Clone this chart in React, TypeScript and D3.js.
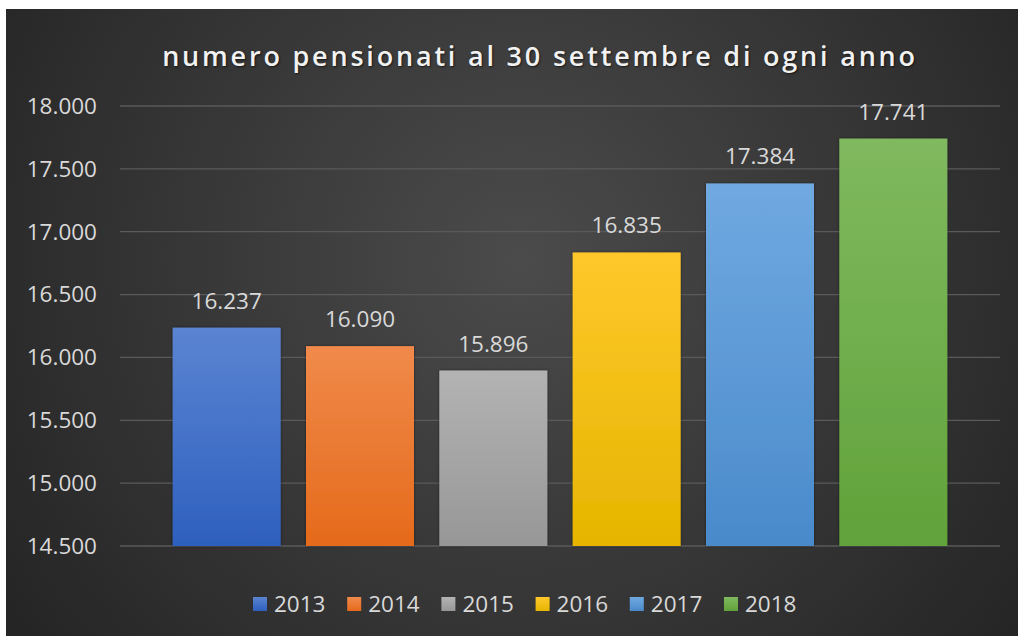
import * as React from 'react';
import * as d3 from 'd3';

const years = ['2013', '2014', '2015', '2016', '2017', '2018'];
const pensionati = [16237, 16090, 15896, 16835, 17384, 17741];
const yTicks = [14500, 15000, 15500, 16000, 16500, 17000, 17500, 18000];
const topColors = ['#5b84d2', '#f08a4b', '#b3b3b3', '#ffc82b', '#70a9e1', '#80b95f'];
const bottomColors = ['#2e60be', '#e56a1b', '#979797', '#e5b500', '#4a8acb', '#61a23a'];

const fmt = (v: number) => d3.format(',')(v).replace(/,/g, '.');

const App = () => {
  const ref = React.useRef<SVGSVGElement>(null);
  const width = 1018;
  const height = 636;

  React.useEffect(() => {
    const svg = d3.select(ref.current);
    svg.selectAll('*').remove();

    const defs = svg.append('defs');
    const bg = defs
      .append('radialGradient')
      .attr('id', 'bg')
      .attr('gradientUnits', 'userSpaceOnUse')
      .attr('cx', 520)
      .attr('cy', 260)
      .attr('r', 620);
    bg.append('stop').attr('offset', '0%').attr('stop-color', '#4b4b4b');
    bg.append('stop').attr('offset', '100%').attr('stop-color', '#252525');

    years.forEach((y, i) => {
      const g = defs
        .append('linearGradient')
        .attr('id', `bar${y}`)
        .attr('x1', 0)
        .attr('y1', 0)
        .attr('x2', 0)
        .attr('y2', 1);
      g.append('stop').attr('offset', '0%').attr('stop-color', topColors[i]);
      g.append('stop').attr('offset', '100%').attr('stop-color', bottomColors[i]);
    });

    const shadow = defs.append('filter').attr('id', 'shadow').attr('x', '-10%').attr('y', '-10%').attr('width', '120%').attr('height', '120%');
    shadow
      .append('feDropShadow')
      .attr('dx', 0)
      .attr('dy', 0)
      .attr('stdDeviation', 1.5)
      .attr('flood-color', '#000')
      .attr('flood-opacity', 0.45);

    svg.append('rect').attr('width', width).attr('height', height).attr('fill', '#ffffff');
    svg
      .append('rect')
      .attr('x', 6)
      .attr('y', 9)
      .attr('width', width - 6)
      .attr('height', height - 9)
      .attr('fill', 'url(#bg)');

    const x = d3.scaleBand().domain(years).range([160, 960]).paddingInner(0.19).paddingOuter(0.095);
    const y = d3.scaleLinear().domain([14500, 18000]).range([546, 106]);

    // gridlines
    svg
      .append('g')
      .selectAll('line')
      .data(yTicks)
      .join('line')
      .attr('x1', 120)
      .attr('x2', 1000)
      .attr('y1', (d) => y(d))
      .attr('y2', (d) => y(d))
      .attr('stroke', '#5a5a5a')
      .attr('stroke-width', 1.3);

    // y labels
    svg
      .append('g')
      .selectAll('text')
      .data(yTicks)
      .join('text')
      .attr('x', 97)
      .attr('y', (d) => y(d))
      .attr('dy', '0.35em')
      .attr('text-anchor', 'end')
      .attr('font-family', "'Open Sans', sans-serif")
      .attr('font-size', 22.5)
      .attr('fill', '#d9d9d9')
      .text((d) => fmt(d));

    // bars
    svg
      .append('g')
      .selectAll('rect')
      .data(pensionati)
      .join('rect')
      .attr('x', (_, i) => x(years[i]) as number)
      .attr('y', (d) => y(d))
      .attr('width', x.bandwidth())
      .attr('height', (d) => y(14500) - y(d))
      .attr('fill', (_, i) => `url(#bar${years[i]})`)
      .attr('filter', 'url(#shadow)');

    // data labels
    svg
      .append('g')
      .selectAll('text')
      .data(pensionati)
      .join('text')
      .attr('x', (_, i) => (x(years[i]) as number) + x.bandwidth() / 2)
      .attr('y', (d) => y(d) - 19)
      .attr('text-anchor', 'middle')
      .attr('font-family', "'Open Sans', sans-serif")
      .attr('font-size', 22.5)
      .attr('fill', '#d9d9d9')
      .text((d) => fmt(d));

    // title
    svg
      .append('text')
      .attr('x', 540)
      .attr('y', 66)
      .attr('text-anchor', 'middle')
      .attr('font-family', "'Open Sans', sans-serif")
      .attr('font-size', 27)
      .attr('font-weight', 600)
      .attr('letter-spacing', 2.8)
      .attr('fill', '#f2f2f2')
      .style('text-shadow', '1px 1px 2px rgba(0,0,0,0.6)')
      .text('numero pensionati al 30 settembre di ogni anno');

    // legend
    const legend = svg
      .append('g')
      .selectAll('g')
      .data(years)
      .join('g')
      .attr('transform', (_, i) => `translate(${253 + i * 94.2}, 604)`);
    legend
      .append('rect')
      .attr('x', 0)
      .attr('y', -7)
      .attr('width', 14)
      .attr('height', 14)
      .attr('fill', (d) => `url(#bar${d})`);
    legend
      .append('text')
      .attr('x', 21)
      .attr('y', 0)
      .attr('dy', '0.35em')
      .attr('font-family', "'Open Sans', sans-serif")
      .attr('font-size', 22.5)
      .attr('fill', '#d9d9d9')
      .text((d) => d);
  }, []);

  return (
    <svg
      ref={ref}
      width={width}
      height={height}
      style={{ position: 'absolute', left: 0, top: 0, display: 'block' }}
    />
  );
};

export default App;
